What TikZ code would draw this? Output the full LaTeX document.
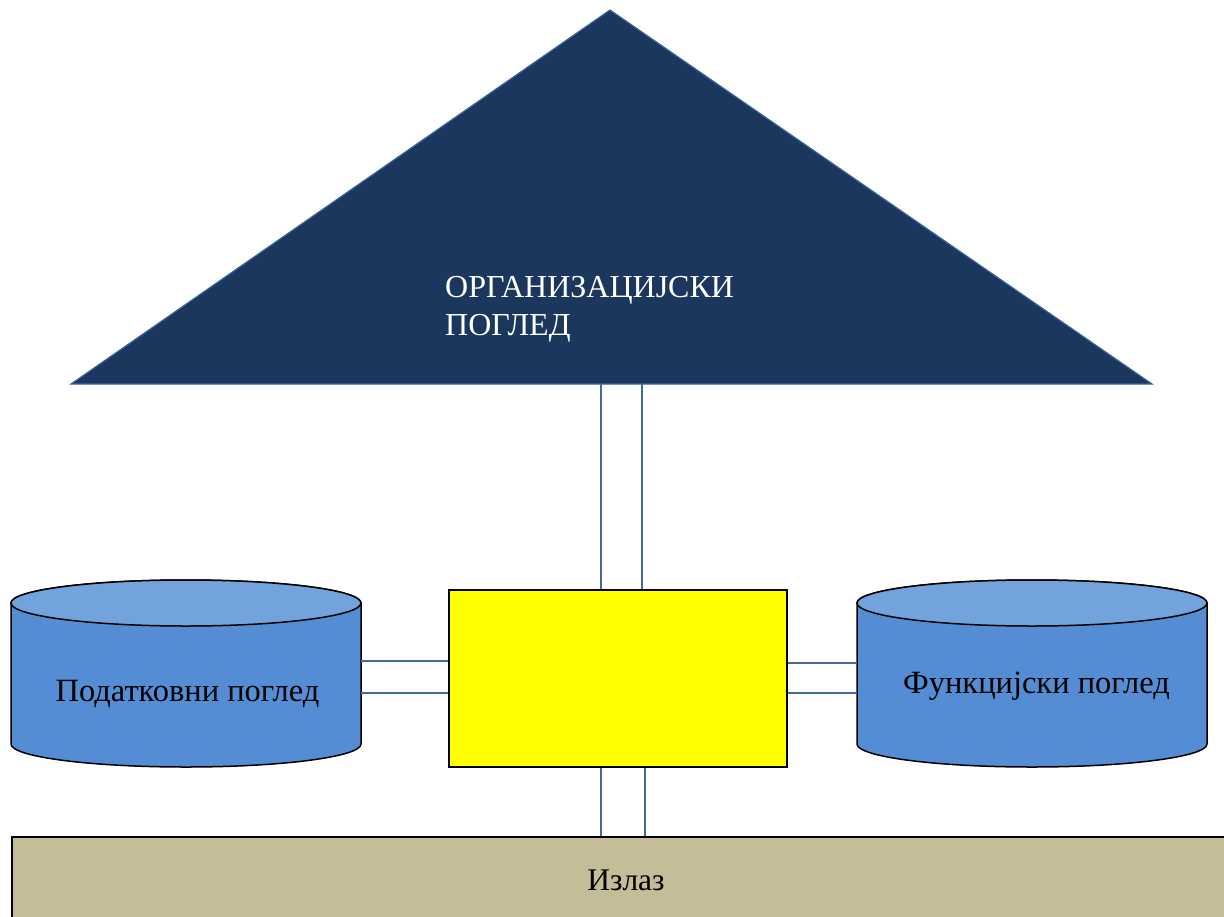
\documentclass[tikz,border=0pt]{standalone}
\usepackage{fontspec}
\setmainfont{Liberation Serif}
\definecolor{navy}{HTML}{1B375E}
\definecolor{navyedge}{HTML}{3A64A0}
\definecolor{linkblue}{HTML}{4468A0}
\definecolor{drumside}{HTML}{548DD4}
\definecolor{drumtop}{HTML}{72A3DD}
\definecolor{tan}{HTML}{C4BD97}
\definecolor{hub}{HTML}{FFFF00}
\begin{document}
\begin{tikzpicture}[x=1pt,y=-1pt,
  link/.style={draw=linkblue, line width=1.3pt},
  drumline/.style={draw=black, line width=1.5pt},
  anchorbox/.style={minimum width=350pt, minimum height=186pt, inner sep=0pt},
  drumtext/.style={anchor=base, inner sep=0pt, font=\fontsize{32.5}{36}\selectfont}]
\useasboundingbox (0,0) rectangle (1224,916);
\clip (0,0) rectangle (1224,916);

% organisational view: the roof triangle
\filldraw[fill=navy, draw=navyedge, line width=1.2pt]
  (610,10) -- (1152,384) -- (71,384) -- cycle;
\coordinate (roofL) at (601,384);
\coordinate (roofR) at (642,384);
\node[anchor=base west, inner sep=0pt, text=white,
  font=\fontsize{32}{38}\selectfont] (org1) at (445,297) {ОРГАНИЗАЦИЈСКИ};
\node[anchor=base west, inner sep=0pt, text=white,
  font=\fontsize{32}{38}\selectfont] (org2) at (445,335) {ПОГЛЕД};

% left drum: data view
\filldraw[drumline, fill=drumside]
  (11,603) -- (11,744) arc[start angle=180, end angle=0, x radius=175, y radius=23]
  -- (361,603) arc[start angle=0, end angle=-180, x radius=175, y radius=23] -- cycle;
\filldraw[drumline, fill=drumtop] (186,603) ellipse[x radius=175, y radius=23];
\node[anchorbox] (data) at (186,684) {};
\node[drumtext] (datatxt) at (187.5,701) {Податковни поглед};

% right drum: function view
\filldraw[drumline, fill=drumside]
  (857,603) -- (857,744) arc[start angle=180, end angle=0, x radius=175, y radius=23]
  -- (1207,603) arc[start angle=0, end angle=-180, x radius=175, y radius=23] -- cycle;
\filldraw[drumline, fill=drumtop] (1032,603) ellipse[x radius=175, y radius=23];
\node[anchorbox] (func) at (1032,684) {};
\node[drumtext] (functxt) at (1036.5,693) {Функцијски поглед};

% central yellow block
\node[draw=black, line width=1.8pt, fill=hub, minimum width=338pt,
  minimum height=177pt, inner sep=0pt] (core) at (618,678.5) {};

% output bar
\node[draw=black, line width=2pt, fill=tan, minimum width=1228pt,
  minimum height=86pt, inner sep=0pt, font=\fontsize{31.5}{34}\selectfont]
  (exit) at (626,880) {Излаз};

% double connectors
\draw[link] (roofL) -- (roofL |- core.north);
\draw[link] (roofR) -- (roofR |- core.north);
\draw[link] (data.east |- {(0,661)}) -- (core.west |- {(0,661)});
\draw[link] (data.east |- {(0,693)}) -- (core.west |- {(0,693)});
\draw[link] (func.west |- {(0,663)}) -- (core.east |- {(0,663)});
\draw[link] (func.west |- {(0,693)}) -- (core.east |- {(0,693)});
\draw[link] (core.south -| {(601,0)}) -- (exit.north -| {(601,0)});
\draw[link] (core.south -| {(645,0)}) -- (exit.north -| {(645,0)});
\end{tikzpicture}
\end{document}
